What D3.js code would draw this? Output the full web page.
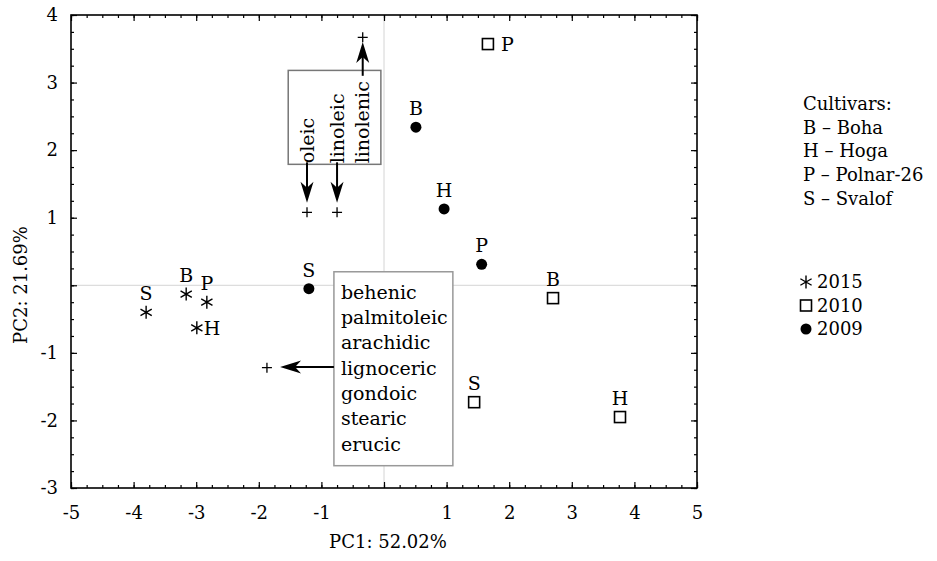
<!DOCTYPE html>
<html>
<head>
<meta charset="utf-8" />
<title>PCA biplot</title>
<script src="https://d3js.org/d3.v7.min.js"></script>
<style>
  body { margin: 0; background: #fff; }
  svg text { font-family: "DejaVu Serif", serif; font-size: 18px; fill: #000; }
</style>
</head>
<body>
<svg id="chart" width="937" height="561"></svg>
<script>
// scores: year, cultivar, PC1, PC2
var years = ["2015", "2015", "2015", "2015", "2010", "2010", "2010", "2010", "2009", "2009", "2009", "2009"];
var cultivars = ["S", "B", "P", "H", "P", "B", "S", "H", "S", "B", "H", "P"];
var pc1 = [-3.80, -3.16, -2.83, -2.99, 1.66, 2.70, 1.44, 3.77, -1.20, 0.51, 0.96, 1.56];
var pc2 = [-0.40, -0.13, -0.25, -0.63, 3.57, -0.19, -1.73, -1.95, -0.05, 2.34, 1.13, 0.31];

// loadings (plus marks)
var loadX = [-1.23, -0.75, -0.34, -1.87];
var loadY = [1.08, 1.08, 3.67, -1.22];

// arrows from the name boxes to the loadings
var arrowFromX = [-1.23, -0.75, -0.34, -0.80];
var arrowFromY = [1.82, 1.82, 3.10, -1.21];
var arrowToX = [-1.23, -0.75, -0.34, -1.66];
var arrowToY = [1.22, 1.22, 3.60, -1.21];

var upperNames = ["oleic", "linoleic", "linolenic"];
var lowerNames = ["behenic", "palmitoleic", "arachidic", "lignoceric", "gondoic", "stearic", "erucic"];

var xTicks = [-5, -4, -3, -2, -1, 0, 1, 2, 3, 4, 5];
var yTicks = [-3, -2, -1, 0, 1, 2, 3, 4];

var legendCultivars = ["Cultivars:", "B \u2013 Boha", "H \u2013 Hoga", "P \u2013 Polnar-26", "S \u2013 Svalof"];
var legendYears = ["2015", "2010", "2009"];

var svg = d3.select("#chart");
var pLeft = 71, pRight = 697, pTop = 15, pBottom = 488;

var x = d3.scaleLinear().domain([-5, 5]).range([pLeft, pRight]);
var y = d3.scaleLinear().domain([-3, 4]).range([pBottom, pTop]);

function tickLabel(d) { return d === 0 ? "" : String(d); }
var minorX = d3.range(-5, 5.001, 0.25);
var minorY = d3.range(-3, 4.001, 0.25);

// zero lines
svg.append("line").attr("x1", x(0)).attr("x2", x(0)).attr("y1", pTop).attr("y2", pBottom)
  .attr("stroke", "#d4d4d4").attr("stroke-width", 1);
svg.append("line").attr("x1", pLeft).attr("x2", pRight).attr("y1", y(0)).attr("y2", y(0))
  .attr("stroke", "#d4d4d4").attr("stroke-width", 1);

// axes, ticks pointing inwards
function axisGroup(axis, tx, ty) {
  var g = svg.append("g").attr("transform", "translate(" + tx + "," + ty + ")").call(axis);
  g.select(".domain").remove();
  g.selectAll("line").attr("stroke", "#000").attr("stroke-width", 1.2);
  g.selectAll("text").attr("font-family", "DejaVu Serif").attr("font-size", 18).attr("fill", "#000");
  return g;
}
axisGroup(d3.axisBottom(x).tickValues(xTicks).tickFormat(tickLabel).tickSize(-6).tickPadding(18), 0, pBottom);
axisGroup(d3.axisBottom(x).tickValues(minorX).tickFormat("").tickSize(-3), 0, pBottom);
axisGroup(d3.axisTop(x).tickValues(xTicks).tickFormat("").tickSize(-6), 0, pTop);
axisGroup(d3.axisTop(x).tickValues(minorX).tickFormat("").tickSize(-3), 0, pTop);
axisGroup(d3.axisLeft(y).tickValues(yTicks).tickFormat(tickLabel).tickSize(-6).tickPadding(13), pLeft, 0);
axisGroup(d3.axisLeft(y).tickValues(minorY).tickFormat("").tickSize(-3), pLeft, 0);
axisGroup(d3.axisRight(y).tickValues(yTicks).tickFormat("").tickSize(-6), pRight, 0);
axisGroup(d3.axisRight(y).tickValues(minorY).tickFormat("").tickSize(-3), pRight, 0);

svg.append("rect").attr("x", pLeft).attr("y", pTop).attr("width", pRight - pLeft).attr("height", pBottom - pTop)
  .attr("fill", "none").attr("stroke", "#000").attr("stroke-width", 1.6);

// axis titles
svg.append("text").attr("x", 388).attr("y", 548).attr("text-anchor", "middle").text("PC1: 52.02%");
svg.append("text").attr("transform", "translate(27,285) rotate(-90)").attr("text-anchor", "middle").text("PC2: 21.69%");

// name boxes
svg.append("rect").attr("x", x(-1.53)).attr("y", y(3.18))
  .attr("width", x(-0.05) - x(-1.53)).attr("height", y(1.79) - y(3.18))
  .attr("fill", "#fff").attr("stroke", "#777").attr("stroke-width", 1.5);
svg.append("rect").attr("x", x(-0.80)).attr("y", y(0.20))
  .attr("width", x(1.10) - x(-0.80)).attr("height", y(-2.67) - y(0.20))
  .attr("fill", "#fff").attr("stroke", "#999").attr("stroke-width", 1.5);

upperNames.forEach(function(n, i) {
  svg.append("text")
    .attr("transform", "translate(" + (x(arrowFromX[i]) + 6.5) + "," + (y(1.82) + 1) + ") rotate(-90)")
    .style("font-size", "19px")
    .text(n);
});
svg.append("g").selectAll("text").data(lowerNames).enter().append("text")
  .attr("x", x(-0.80) + 7)
  .attr("y", function(d, i) { return y(0.20) + 27 + i * 25.3; })
  .style("font-size", "19px")
  .text(function(d) { return d; });

// arrows
arrowFromX.forEach(function(v, i) {
  var x0 = x(v), y0 = y(arrowFromY[i]), x1 = x(arrowToX[i]), y1 = y(arrowToY[i]);
  var len = Math.hypot(x1 - x0, y1 - y0), ux = (x1 - x0) / len, uy = (y1 - y0) / len;
  svg.append("line").attr("x1", x0).attr("y1", y0)
    .attr("x2", x1 - ux * 14).attr("y2", y1 - uy * 14)
    .attr("stroke", "#000").attr("stroke-width", 2);
  var ang = Math.atan2(uy, ux) * 180 / Math.PI;
  svg.append("path")
    .attr("d", "M0,0L-21,-6.5L-15,0L-21,6.5Z")
    .attr("transform", "translate(" + x1 + "," + y1 + ") rotate(" + ang + ")")
    .attr("fill", "#000");
});

// loadings as plus marks
loadX.forEach(function(v, i) {
  var cx = x(v), cy = y(loadY[i]);
  svg.append("path").attr("d", "M" + (cx - 5) + "," + cy + "H" + (cx + 5) + "M" + cx + "," + (cy - 5) + "V" + (cy + 5))
    .attr("stroke", "#000").attr("stroke-width", 1.3);
});

// symbols
function drawSymbol(g, year, cx, cy) {
  if (year === "2015") {
    var r = 6.5, p = "";
    [90, 30, 150].forEach(function(a) {
      var dx = r * Math.cos(a * Math.PI / 180), dy = r * Math.sin(a * Math.PI / 180);
      p += "M" + (cx - dx) + "," + (cy - dy) + "L" + (cx + dx) + "," + (cy + dy);
    });
    g.append("path").attr("d", p).attr("stroke", "#000").attr("stroke-width", 1.4);
  } else if (year === "2010") {
    g.append("rect").attr("x", cx - 5.5).attr("y", cy - 5.5).attr("width", 11).attr("height", 11)
      .attr("fill", "#fff").attr("stroke", "#000").attr("stroke-width", 1.6);
  } else {
    g.append("circle").attr("cx", cx).attr("cy", cy).attr("r", 5.5).attr("fill", "#000");
  }
}

var pts = svg.append("g").style("font-size", "19px");
var labelRight = { "2010P": 1, "2015H": 1 };
pc1.forEach(function(v, i) {
  var cx = x(v), cy = y(pc2[i]);
  drawSymbol(pts, years[i], cx, cy);
  var key = years[i] + cultivars[i];
  var t;
  if (labelRight[key]) {
    t = pts.append("text").attr("x", cx + (years[i] === "2010" ? 13 : 7)).attr("y", cy + 7).text(cultivars[i]);
  } else {
    t = pts.append("text").attr("x", cx).attr("y", cy - 12).attr("text-anchor", "middle").text(cultivars[i]);
  }
  t.style("font-size", "19px");
});

// legend
svg.append("g").selectAll("text").data(legendCultivars).enter().append("text")
  .attr("x", 803)
  .attr("y", function(d, i) { return 110 + i * 23.7; })
  .text(function(d) { return d; });

var lg = svg.append("g");
legendYears.forEach(function(yr, i) {
  var cy = 282 + i * 23.5;
  drawSymbol(lg, yr, 806, cy);
  lg.append("text").attr("x", 817).attr("y", cy + 6).text(yr);
});
</script>
</body>
</html>
